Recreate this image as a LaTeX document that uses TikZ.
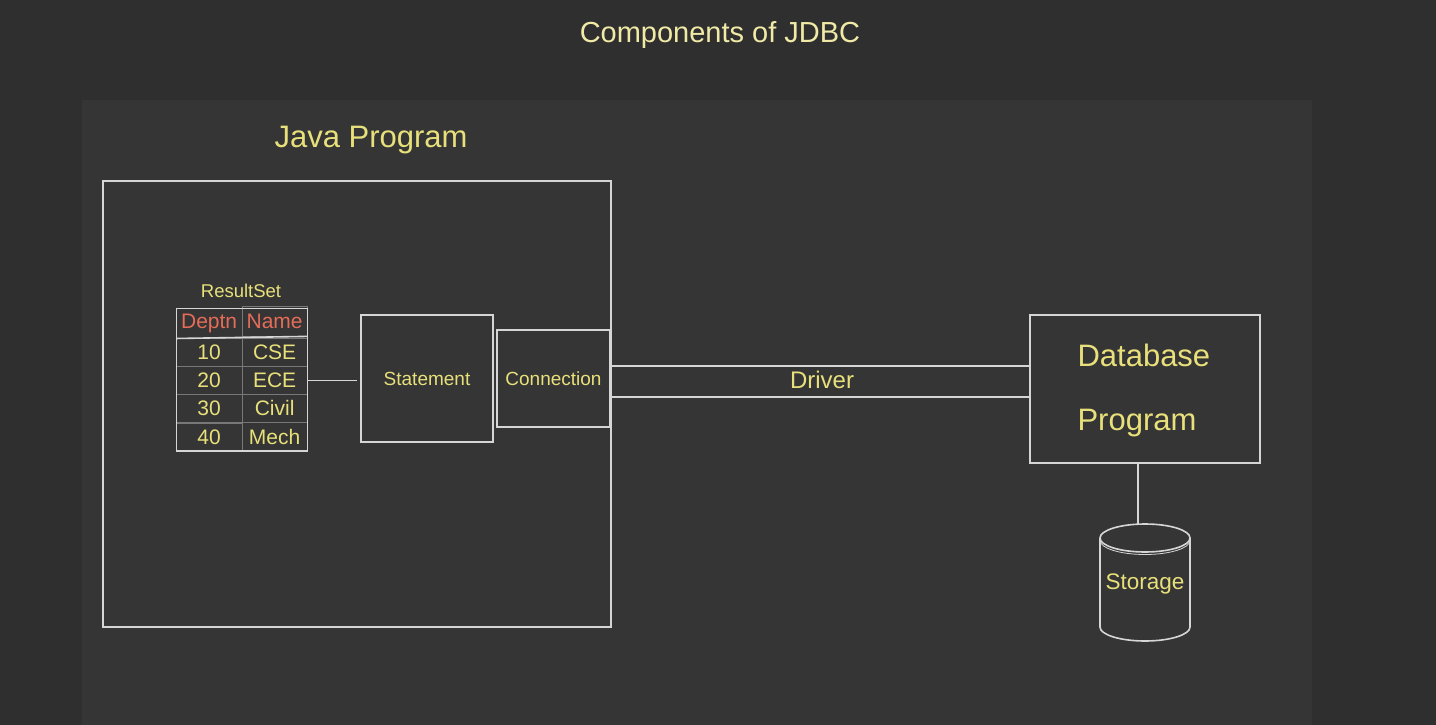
\documentclass[tikz,border=0pt]{standalone}
\usepackage{fontspec}
\setmainfont{Liberation Sans}
\usetikzlibrary{calc,matrix}
\definecolor{bgouter}{RGB}{47,47,47}
\definecolor{bgpanel}{RGB}{53,53,53}
\definecolor{edge}{RGB}{214,214,214}
\definecolor{thin}{RGB}{120,120,120}
\definecolor{txt}{RGB}{232,224,122}
\definecolor{ttl}{RGB}{240,234,166}
\definecolor{hdr}{RGB}{228,108,88}
\newcommand\txtsize[1]{\fontsize{#1}{#1}\selectfont}

\begin{document}
\begin{tikzpicture}[x=1pt,y=-1pt,
                    box/.style={draw=edge,line width=1.6pt,inner sep=0pt},
                    cell/.style={draw=thin,line width=0.8pt,minimum width=65.5pt,minimum height=28pt,inner sep=0pt,text=txt,font=\txtsize{21}},
                    head/.style={cell,minimum height=30pt,text=hdr}]
                      \fill[bgouter] (0,0) rectangle (1436,725);
                      \fill[bgpanel] (82,100) rectangle (1312,725);
                      \node[text=ttl,font=\txtsize{29}] (title) at (720,35) {Components of JDBC};
                      \node[box,minimum width=508pt,minimum height=446pt] (java) at (357,404) {};
                      \node[text=txt,font=\txtsize{31}] (javalbl) at (371,140) {Java Program};
                      \node[text=txt,font=\txtsize{18.5}] (rslbl) at (241,291) {ResultSet};
                      \matrix (rs) [matrix of nodes,anchor=north west,inner sep=0pt,outer sep=0pt,
                                    column sep=-0.8pt,row sep=-0.8pt,nodes={cell}] at (176,306) {
                        |[head]| Deptn & |[head]| Name \\
                        10 & CSE \\
                        20 & ECE \\
                        30 & Civil \\
                        40 & Mech \\
                      };
                      \draw[box] (rs-1-1.north west) rectangle (rs-5-2.south east);
                      \draw[box] (rs-1-1.south west) -- (rs-1-2.south east);
                      \node[box,minimum width=132pt,minimum height=127pt,text=txt,font=\txtsize{19}] (stmt) at (427,378.5) {Statement};
                      \node[box,minimum width=113pt,minimum height=97pt,text=txt,font=\txtsize{19}] (conn) at (553.5,378.5) {Connection};
                      \draw[draw=edge,line width=1.6pt] (rs-3-2.east) -- ([xshift=-3pt]stmt.west |- rs-3-2.east);
                      \node[box,minimum width=230pt,minimum height=148pt] (db) at (1145,389) {};
                      \node[text=txt,font=\txtsize{31},anchor=west,align=left] (dbtxt) at (1074,390)
                        {Database\\[33pt]Program};
                      \draw[draw=edge,line width=1.6pt] (java.east |- 0,366) -- (db.west |- 0,366);
                      \draw[draw=edge,line width=1.6pt] (java.east |- 0,397) -- (db.west |- 0,397);
                      \node[text=txt,font=\txtsize{24}] (drv) at (822,380) {Driver};
                      \node[minimum width=90pt,minimum height=117pt,inner sep=0pt,text=txt,font=\txtsize{22.5}] (storage) at (1145,584) {Storage};
                      \draw[draw=edge,line width=1.6pt] ([xshift=-7pt]db.south) -- ([xshift=-7pt]db.south |- storage.north);
                      \draw[draw=edge,line width=1.6pt] (1145,538) ellipse (45 and 14);
                      \draw[draw=edge,line width=0.8pt] (1100,540.5) arc (180:0:45 and 14);
                      \draw[draw=edge,line width=1.6pt] (1100,538) -- (1100,627) arc (180:0:45 and 14) -- (1190,538);
                  \end{tikzpicture}
\end{document}
